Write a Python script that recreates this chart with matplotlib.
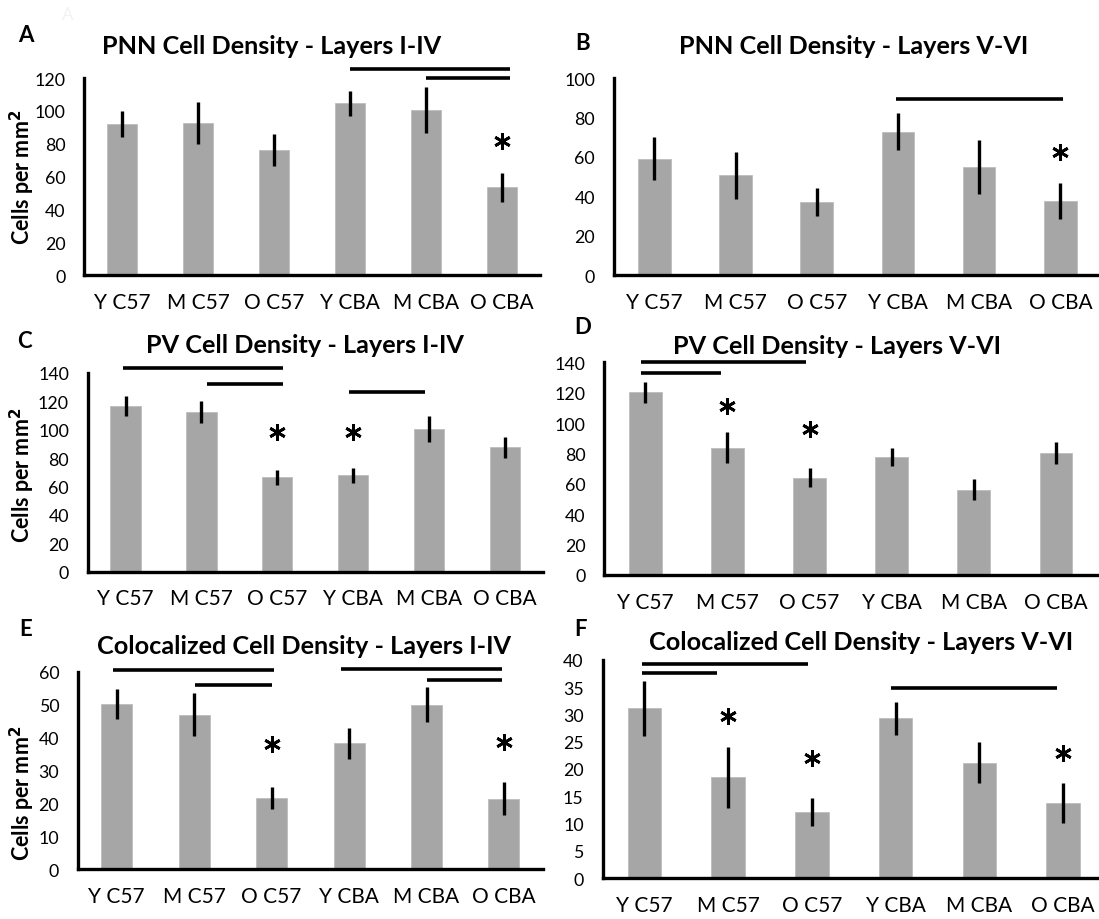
import matplotlib
matplotlib.use("Agg")
import matplotlib.pyplot as plt

plt.rcParams['font.family'] = ['Lato', 'DejaVu Sans']

W, H = 1099, 920

categories = ["Y C57", "M C57", "O C57", "Y CBA", "M CBA", "O CBA"]

# Panel data (means and SEM)
pnn_1_4 = [92, 92.4, 76, 104.6, 100.5, 53.5]
pnn_1_4_err = [8, 12.8, 9.8, 7.5, 14, 8.8]
pnn_5_6 = [59.1, 50.7, 37.2, 72.8, 55, 37.7]
pnn_5_6_err = [11, 12, 7, 9.3, 13.6, 9.2]
pv_1_4 = [117, 112.5, 66.5, 68.1, 100.5, 87.6]
pv_1_4_err = [7, 8, 5.3, 5.3, 9, 7.6]
pv_5_6 = [120.3, 83.8, 64.1, 77.7, 56.2, 80.5]
pv_5_6_err = [7, 10.4, 6.5, 6, 7.1, 7.2]
col_1_4 = [50.2, 47, 21.6, 38.2, 50, 21.4]
col_1_4_err = [4.5, 6.5, 3.4, 4.8, 5.3, 5]
col_5_6 = [31.1, 18.5, 12.1, 29.3, 21.1, 13.8]
col_5_6_err = [5, 5.6, 2.6, 3, 3.75, 3.6]

titles = ["PNN Cell Density - Layers I-IV", "PNN Cell Density - Layers V-VI",
          "PV Cell Density - Layers I-IV", "PV Cell Density - Layers V-VI",
          "Colocalized Cell Density - Layers I-IV", "Colocalized Cell Density - Layers V-VI"]
letters = ["A", "B", "C", "D", "E", "F"]
ylims = [120, 100, 140, 140, 60, 40]
ysteps = [20, 20, 20, 20, 10, 5]

# significance brackets: (x start, x end, y)
sig_a = [(3.0, 5.1, 125.5), (4.0, 5.1, 119.8)]
sig_b = [(2.97, 5.03, 89.4)]
sig_c = [(-0.03, 2.08, 143.5), (1.08, 2.08, 132.3), (2.95, 3.95, 126.4)]
sig_d = [(-0.05, 1.96, 140.4), (-0.05, 0.92, 133.0)]
sig_e = [(-0.05, 2.03, 60.4), (1.01, 2.0, 55.95), (2.9, 4.98, 60.8), (4.0, 4.98, 57.5)]
sig_f = [(-0.03, 1.95, 39.3), (-0.03, 0.87, 37.5), (2.95, 4.93, 34.8)]

# asterisks: (category index, y)
star_a = [(5, 81.8)]
star_b = [(5, 62.3)]
star_c = [(2, 98.2), (3, 98.2)]
star_d = [(1, 111.4), (2, 96.1)]
star_e = [(2, 38.0), (5, 38.6)]
star_f = [(1, 29.75), (2, 22.1), (5, 22.9)]

values = [pnn_1_4, pnn_5_6, pv_1_4, pv_5_6, col_1_4, col_5_6]
errors = [pnn_1_4_err, pnn_5_6_err, pv_1_4_err, pv_5_6_err, col_1_4_err, col_5_6_err]
sigs = [sig_a, sig_b, sig_c, sig_d, sig_e, sig_f]
stars = [star_a, star_b, star_c, star_d, star_e, star_f]

# axes boxes in pixels: left, right, bottom, top
boxes = [(84.2, 540, 276.3, 79), (613.7, 1101, 276.3, 79),
         (87.7, 542.6, 572.7, 374), (604.3, 1097, 576, 363.3),
         (77.9, 542.7, 870.3, 672.7), (602.5, 1105, 879.3, 660.7)]
title_pos = [(272, 47), (854, 47), (305, 346), (837, 347), (304, 647), (861, 643)]
letter_pos = [(26, 36), (583, 44), (24, 341), (583, 328), (26, 630), (581, 630)]
ylabel_pos = [(22, 177), None, (22, 475), None, (22, 793), None]

fig = plt.figure(figsize=(W / 100, H / 100), dpi=100)
fig.text(68 / W, 1 - 15 / H, "A", fontsize=12, color="#f2f2f2", ha="center", va="center")

bar_color = "#a6a6a6"
x = list(range(len(categories)))
for i in range(6):
    l, r, b, t = boxes[i]
    ax = fig.add_axes([l / W, 1 - b / H, (r - l) / W, (b - t) / H])
    ax.bar(x, values[i], width=0.4, color=bar_color, edgecolor="#bdbdbd", linewidth=0.6, zorder=2)
    ax.errorbar(x, values[i], yerr=errors[i], fmt="none", ecolor="black",
                elinewidth=2.4, capsize=0, zorder=3)
    ax.set_xlim(-0.5, 5.5)
    ax.set_ylim(0, ylims[i])
    ax.set_yticks(range(0, ylims[i] + 1, ysteps[i]))
    ax.set_xticks(x)
    ax.set_xticklabels(categories, fontsize=15)
    ax.tick_params(axis="y", labelsize=12.8, length=0, pad=13.5)
    ax.tick_params(axis="x", length=0, pad=12)
    for s in ["top", "right"]:
        ax.spines[s].set_visible(False)
    for s in ["left", "bottom"]:
        ax.spines[s].set_linewidth(2.4)
        ax.spines[s].set_color("black")
    for (x0, x1, yy) in sigs[i]:
        ax.plot([x0, x1], [yy, yy], color="black", lw=2.6, clip_on=False,
                solid_capstyle="butt", zorder=4)
    sx = [c for c, _ in stars[i]]
    sy = [v for _, v in stars[i]]
    ax.plot(sx, sy, linestyle="none", marker=(6, 2, 0), markersize=12,
            markeredgewidth=2.0, color="black", clip_on=False, zorder=4)
    tx, ty = title_pos[i]
    fig.text(tx / W, 1 - ty / H, titles[i], fontsize=18.2, fontweight="bold",
             ha="center", va="center")
    lx, ly = letter_pos[i]
    fig.text(lx / W, 1 - ly / H, letters[i], fontsize=16, fontweight="bold",
             ha="center", va="center")
    if ylabel_pos[i] is not None:
        yx, yy = ylabel_pos[i]
        fig.text(yx / W, 1 - yy / H, "Cells per mm$^\\mathbf{2}$", fontsize=15.5,
                 fontweight="bold", rotation=90, ha="center", va="center")

fig.savefig("out.png", dpi=100)
